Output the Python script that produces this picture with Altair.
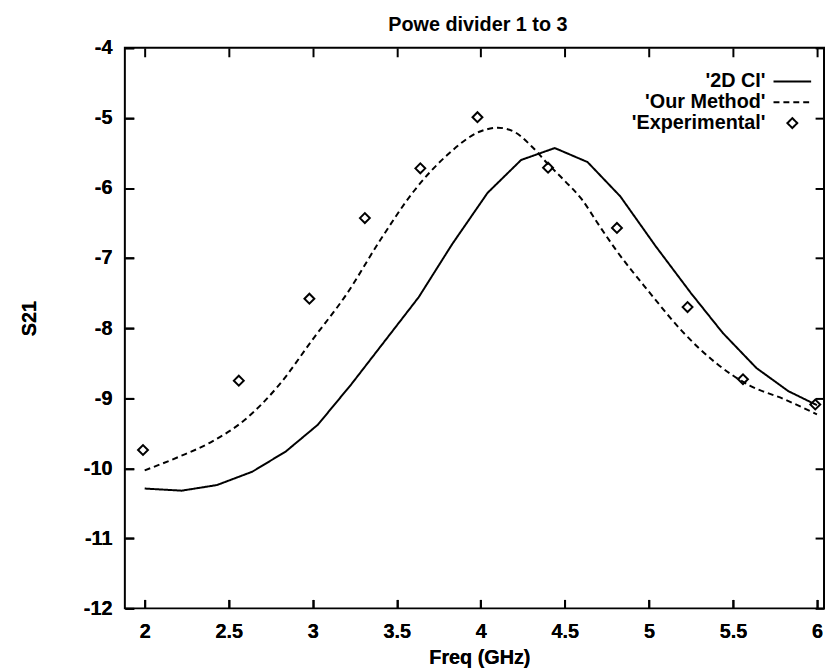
import altair as alt
import pandas as pd

# ---- data ----
series_names = ["'2D CI'", "'Our Method'", "'Experimental'"]

freq_2dci = [2.0, 2.22, 2.43, 2.64, 2.84, 3.03, 3.23, 3.43, 3.63, 3.83, 4.04,
             4.24, 4.44, 4.635, 4.83, 5.04, 5.25, 5.44, 5.64, 5.83, 6.0]
s21_2dci = [-10.29, -10.32, -10.24, -10.05, -9.76, -9.38, -8.80, -8.18, -7.56,
            -6.80, -6.07, -5.60, -5.43, -5.63, -6.12, -6.83, -7.50, -8.07,
            -8.57, -8.90, -9.10]

freq_ours = [2.0, 2.2, 2.4, 2.6, 2.8, 3.0, 3.2, 3.4, 3.6, 3.8, 4.0, 4.1, 4.2,
             4.3, 4.4, 4.5, 4.6, 4.7, 4.8, 5.0, 5.2, 5.4, 5.6, 5.8, 6.0]
s21_ours = [-10.03, -9.84, -9.62, -9.30, -8.81, -8.16, -7.52, -6.75, -6.05,
            -5.53, -5.19, -5.14, -5.20, -5.40, -5.66, -5.90, -6.16, -6.52,
            -6.87, -7.48, -8.05, -8.50, -8.82, -9.01, -9.23]

freq_exp = [1.99, 2.56, 2.98, 3.31, 3.64, 3.98, 4.40, 4.81, 5.23, 5.56, 5.99]
s21_exp = [-9.74, -8.75, -7.58, -6.43, -5.72, -4.99, -5.71, -6.57, -7.70,
           -8.73, -9.09]

x_ticks = [2, 2.5, 3, 3.5, 4, 4.5, 5, 5.5, 6]
y_ticks = [-12, -11, -10, -9, -8, -7, -6, -5, -4]
x_domain = [1.882, 6.042]
y_domain = [-12, -4]

df_2dci = pd.DataFrame({"freq": freq_2dci, "s21": s21_2dci, "series": series_names[0]})
df_ours = pd.DataFrame({"freq": freq_ours, "s21": s21_ours, "series": series_names[1]})
df_exp = pd.DataFrame({"freq": freq_exp, "s21": s21_exp, "series": series_names[2]})

FONT = "Liberation Sans"

x_scale = alt.Scale(domain=x_domain, nice=False, zero=False)
y_scale = alt.Scale(domain=y_domain, nice=False, zero=False)
dash_scale = alt.Scale(domain=series_names, range=[[1, 0], [6, 4], [1, 0]])
shape_scale = alt.Scale(domain=series_names,
                        range=["M-3.8,0L3.8,0", "M-3.8,0L3.8,0", "diamond"])

bottom_axis = alt.Axis(orient="bottom", values=x_ticks, labelExpr="'' + datum.value",
                       offset=-9, tickSize=9, domain=False, grid=False,
                       labelPadding=13, title="Freq (GHz)", titleX=358, titleY=65,
                       titleAlign="center", titleBaseline="alphabetic")
left_axis = alt.Axis(orient="left", values=y_ticks, labelExpr="'' + datum.value",
                     offset=-9, tickSize=9, domain=False, grid=False,
                     labelPadding=13, title="S21", titleX=-105, titleY=273,
                     titleAlign="center", titleBaseline="middle", titleAngle=-90)
top_axis = alt.Axis(orient="top", values=x_ticks, offset=-9, tickSize=9,
                    domain=False, grid=False, labels=False,
                    title="Powe divider 1 to 3", titleX=356, titleY=-27,
                    titleAlign="center", titleBaseline="alphabetic")
right_axis = alt.Axis(orient="right", values=y_ticks, offset=-9, tickSize=9,
                      domain=False, grid=False, labels=False, title="")

legend = alt.Legend(title=None)

line_2dci = alt.Chart(df_2dci).mark_line(color="black", strokeWidth=2).encode(
    x=alt.X("freq:Q", scale=x_scale, axis=bottom_axis),
    y=alt.Y("s21:Q", scale=y_scale, axis=left_axis),
    strokeDash=alt.StrokeDash("series:N", scale=dash_scale, legend=legend),
)

line_ours = alt.Chart(df_ours).mark_line(color="black", strokeWidth=2,
                                         interpolate="monotone").encode(
    x=alt.X("freq:Q", scale=x_scale, axis=bottom_axis),
    y=alt.Y("s21:Q", scale=y_scale, axis=left_axis),
    strokeDash=alt.StrokeDash("series:N", scale=dash_scale, legend=legend),
)

points = alt.Chart(df_exp).mark_point(filled=False, color="black", size=100,
                                      strokeWidth=2, opacity=1).encode(
    x=alt.X("freq:Q", scale=x_scale, axis=top_axis),
    y=alt.Y("s21:Q", scale=y_scale, axis=right_axis),
    shape=alt.Shape("series:N", scale=shape_scale, legend=legend),
)

chart = alt.layer(line_2dci, line_ours, points).resolve_axis(
    x="independent", y="independent"
).properties(
    width=706,
    height=566,
    background="white",
    autosize=alt.AutoSizeParams(type="none"),
    padding={"left": 118, "top": 37, "right": 1, "bottom": 60},
).configure_view(
    stroke="black", strokeWidth=2
).configure_axis(
    tickColor="black", tickWidth=2, labelColor="black", labelFont=FONT,
    labelFontSize=20, labelFontWeight="bold", titleColor="black", titleFont=FONT,
    titleFontSize=20, titleFontWeight="bold",
).configure_legend(
    orient="none", legendX=664, legendY=24, padding=0,
    labelAlign="right", labelOffset={"expr": "-37"}, labelFont=FONT, labelFontSize=20,
    labelFontWeight="bold", labelColor="black", labelLimit=400,
    symbolSize=100, symbolStrokeWidth=2, symbolStrokeColor="black",
    symbolFillColor="transparent", rowPadding=1,
)

chart.save("out.html", embed_options={"renderer": "svg", "actions": False})
